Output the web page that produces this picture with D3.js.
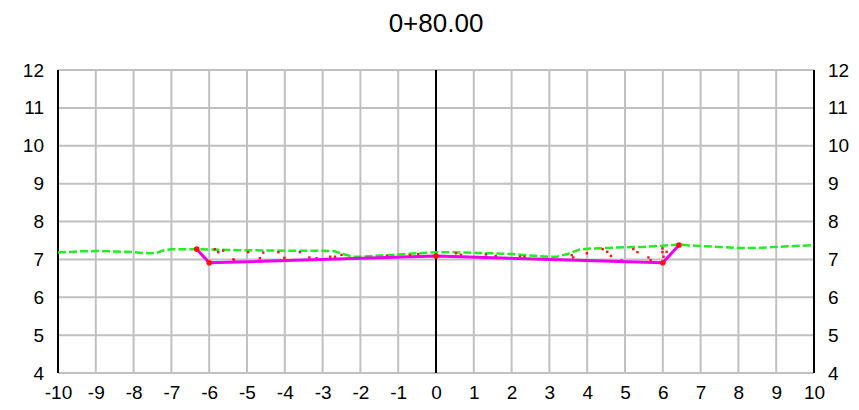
<!DOCTYPE html>
<html>
<head>
<meta charset="utf-8">
<script src="https://cdn.jsdelivr.net/npm/d3@7/dist/d3.min.js"></script>
<style>
  html, body { margin: 0; padding: 0; background: #fff; }
  svg text { font-family: "Liberation Sans", Arial, sans-serif; fill: #000; }
</style>
</head>
<body>
<script>
// ---- data ----
const title = "0+80.00";
const xTickValues = [-10,-9,-8,-7,-6,-5,-4,-3,-2,-1,0,1,2,3,4,5,6,7,8,9,10];
const yTickValues = [4,5,6,7,8,9,10,11,12];

// existing ground (green dashed)
const groundX = [-10,-9.5,-9,-8.5,-8,-7.6,-7.4,-7.2,-7.0,-6.5,-6,-5,-4,-3,-2.7,-2.5,-2.2,-2,-1.5,-1,-0.5,0,0.5,1,1.5,2,2.5,3,3.2,3.5,3.8,4,4.5,5,5.5,6,6.4,7,7.5,8,8.5,9,9.5,10];
const groundY = [7.18,7.21,7.22,7.21,7.19,7.16,7.17,7.24,7.27,7.27,7.26,7.24,7.23,7.23,7.22,7.15,7.07,7.07,7.10,7.13,7.16,7.19,7.19,7.17,7.16,7.14,7.10,7.07,7.07,7.15,7.26,7.28,7.30,7.32,7.33,7.36,7.39,7.35,7.33,7.30,7.30,7.33,7.35,7.38];

// design section (magenta)
const designX = [-6.33,-6,0,6,6.43];
const designY = [7.27,6.91,7.09,6.91,7.38];

// survey points (small red dots)
const surveyX = [-5.85,-5.76,-5.63,-5.36,-5.34,-4.97,-4.66,-4.57,-4.17,-4.01,-3.60,-3.35,-3.16,-2.80,-2.67,-2.50,-1.30,-0.69,-0.47,0.53,0.66,1.32,1.58,2.22,2.34,3.59,3.63,3.99,4.41,4.53,4.63,4.91,5.22,5.33,5.62,5.68,5.99,5.99,6.02,6.10];
const surveyY = [7.27,7.19,7.23,7.00,6.97,7.19,7.03,7.18,7.19,7.04,7.19,7.05,7.03,7.07,7.07,7.12,7.09,7.11,7.14,7.16,7.12,7.13,7.09,7.07,7.07,7.11,7.05,7.16,7.27,7.20,7.09,6.97,7.27,7.19,7.05,6.98,7.29,7.19,7.07,7.20];

// ---- layout ----
const W = 859, H = 410;
const m = {left: 58, right: 45, top: 70, bottom: 37};
const iw = W - m.left - m.right, ih = H - m.top - m.bottom;

const x = d3.scaleLinear().domain([-10, 10]).range([0, iw]);
const y = d3.scaleLinear().domain([4, 12]).range([ih, 0]);

const svg = d3.select("body").append("svg").attr("width", W).attr("height", H);
svg.append("text").attr("x", m.left + x(0)).attr("y", 32)
  .attr("text-anchor", "middle").style("font-size", "26px").text(title);

const g = svg.append("g").attr("transform", `translate(${m.left},${m.top})`);

// grid
g.append("g").selectAll("line").data(xTickValues).join("line")
  .attr("x1", d => x(d)).attr("x2", d => x(d)).attr("y1", 0).attr("y2", ih)
  .attr("stroke", "#c0c0c0").attr("stroke-width", 2);
g.append("g").selectAll("line").data(yTickValues).join("line")
  .attr("x1", 0).attr("x2", iw).attr("y1", d => y(d)).attr("y2", d => y(d))
  .attr("stroke", "#c0c0c0").attr("stroke-width", 2);

// axes (labels via d3 axes)
const fs = "19px";
const fmt = d => String(d);
const ax = g.append("g").attr("transform", `translate(0,${ih})`)
  .call(d3.axisBottom(x).tickValues(xTickValues).tickSize(0).tickPadding(22).tickFormat(fmt));
const al = g.append("g").call(d3.axisLeft(y).tickValues(yTickValues).tickSize(0).tickPadding(14).tickFormat(fmt));
const ar = g.append("g").attr("transform", `translate(${iw},0)`)
  .call(d3.axisRight(y).tickValues(yTickValues).tickSize(0).tickPadding(14).tickFormat(fmt));
[ax, al, ar].forEach(a => {
  a.select(".domain").remove();
  a.selectAll("text").style("font-size", fs).style("font-family", '"Liberation Sans", Arial, sans-serif').attr("fill", "#000");
});
ax.selectAll("text").attr("dy", "0.2em");

// black vertical lines
[-10, 0, 10].forEach(v => {
  g.append("line").attr("x1", x(v)).attr("x2", x(v)).attr("y1", 0).attr("y2", ih)
    .attr("stroke", "#000").attr("stroke-width", 2);
});

// ground line
const ground = groundX.map((d, i) => [d, groundY[i]]);
const line = d3.line().x(d => x(d[0])).y(d => y(d[1]));
g.append("path").datum(ground).attr("d", line)
  .attr("fill", "none").attr("stroke", "#22ee22").attr("stroke-width", 2.5)
  .attr("stroke-dasharray", "8,3");

// survey dots
const survey = surveyX.map((d, i) => [d, surveyY[i]]);
g.append("g").selectAll("rect").data(survey).join("rect")
  .attr("x", d => x(d[0]) - 1.2).attr("y", d => y(d[1]) - 1.2)
  .attr("width", 2.4).attr("height", 2.4).attr("fill", "#ff1010");

// design line
const design = designX.map((d, i) => [d, designY[i]]);
g.append("path").datum(design).attr("d", line)
  .attr("fill", "none").attr("stroke", "#ee00ee").attr("stroke-width", 3)
  .attr("stroke-linejoin", "round");
g.append("g").selectAll("circle").data(design).join("circle")
  .attr("cx", d => x(d[0])).attr("cy", d => y(d[1])).attr("r", 2.8)
  .attr("fill", "#ff1010");
</script>
</body>
</html>
